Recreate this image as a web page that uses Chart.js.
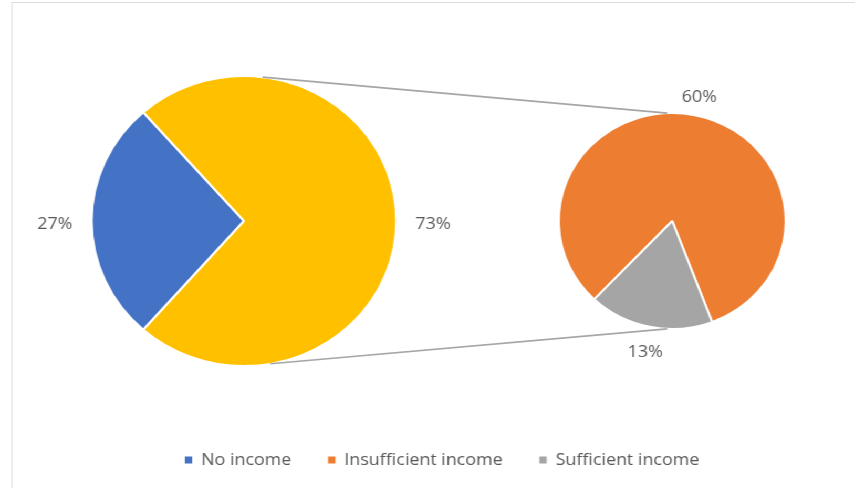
<!DOCTYPE html>
<html>
<head>
<meta charset="utf-8">
<title>Income situation</title>
<script src="https://cdn.jsdelivr.net/npm/chart.js@4.4.1/dist/chart.umd.min.js"></script>
<style>
  html, body { margin: 0; padding: 0; background: #ffffff; }
  body { width: 855px; height: 488px; overflow: hidden; }
  #stage {
    position: relative; width: 814px; height: 488px; overflow: hidden;
    transform: scaleX(1.0504); transform-origin: 0 0; background: #ffffff;
  }
  #frame {
    position: absolute; left: 10.5px; top: 2px; width: 900px; height: 600px;
    border-left: 1.5px solid #dcdcdc; border-top: 1.5px solid #dcdcdc;
  }
  canvas { position: absolute; top: 0; }
  #mainPie { left: 0px; }
  #detailPie { left: 141px; }
</style>
</head>
<body>
<div id="stage">
  <div id="frame"></div>
  <canvas id="mainPie" width="814" height="488"></canvas>
  <canvas id="detailPie" width="998" height="488"></canvas>
</div>
<script>
// Income groups (percent of respondents)
const categories = ['No income', 'Insufficient income', 'Sufficient income'];
const shares = [27, 60, 13];
const colors = ['#4472C4', '#ED7D31', '#A5A5A5'];
const incomeColor = '#FFC000';

// The main pie splits "no income" from everyone with some income;
// the detail pie breaks the income share down further.
const mainLabels = [categories[0], 'With income'];
const mainValues = [shares[0], shares[1] + shares[2]];
const detailLabels = categories.slice(1);
const detailValues = shares.slice(1);

const textColor = '#595959';
Chart.defaults.font.family = '"Open Sans", "Liberation Sans", sans-serif';
Chart.defaults.color = textColor;

// Percent labels placed just outside each slice, along its middle angle
const sliceLabels = {
  id: 'sliceLabels',
  afterDatasetsDraw(chart, args, opts) {
    const ctx = chart.ctx;
    const meta = chart.getDatasetMeta(0);
    const values = chart.data.datasets[0].data;
    ctx.save();
    ctx.font = `${opts.size}px "Open Sans", sans-serif`;
    ctx.fillStyle = textColor;
    ctx.textAlign = 'center';
    ctx.textBaseline = 'middle';
    meta.data.forEach((arc, i) => {
      const p = arc.getProps(['x', 'y', 'startAngle', 'endAngle', 'outerRadius'], true);
      const mid = (p.startAngle + p.endAngle) / 2;
      const d = p.outerRadius + opts.offset;
      ctx.fillText(values[i] + '%', p.x + d * Math.cos(mid), p.y + d * Math.sin(mid) + opts.dy);
    });
    ctx.restore();
  }
};

const mainChart = new Chart(document.getElementById('mainPie'), {
  type: 'pie',
  data: {
    labels: mainLabels,
    datasets: [{
      data: mainValues,
      backgroundColor: [colors[0], incomeColor],
      borderColor: '#ffffff',
      borderWidth: 2
    }]
  },
  options: {
    responsive: false,
    animation: false,
    devicePixelRatio: 1,
    rotation: 221.4,
    radius: 145,
    layout: { padding: { left: 87.3, right: 436.7, top: 76, bottom: 122 } },
    plugins: {
      legend: { display: false },
      tooltip: { enabled: false },
      sliceLabels: { offset: 35, size: 17, dy: 3 }
    }
  },
  plugins: [sliceLabels]
});

// Lines joining the main pie to the detail pie
const connectors = {
  id: 'connectors',
  afterDatasetsDraw(chart, args, opts) {
    const a = mainChart.getDatasetMeta(0).data[0];
    const b = chart.getDatasetMeta(0).data[0];
    const ax = a.x + opts.shiftX, ay = a.y, ar = a.outerRadius;
    const bx = b.x, by = b.y, br = b.outerRadius;
    const rad = (deg) => deg * Math.PI / 180;
    const ctx = chart.ctx;
    ctx.save();
    ctx.strokeStyle = '#a6a6a6';
    ctx.lineWidth = 1.6;
    [[opts.fromTop, opts.toTop], [opts.fromBottom, opts.toBottom]].forEach(([f, t]) => {
      ctx.beginPath();
      ctx.moveTo(ax + ar * Math.cos(rad(f)), ay + ar * Math.sin(rad(f)));
      ctx.lineTo(bx + br * Math.cos(rad(t)), by + br * Math.sin(rad(t)));
      ctx.stroke();
    });
    ctx.restore();
  }
};

new Chart(document.getElementById('detailPie'), {
  type: 'pie',
  data: {
    labels: detailLabels,
    datasets: [{
      data: detailValues,
      backgroundColor: colors.slice(1),
      borderColor: '#ffffff',
      borderWidth: 2
    }]
  },
  options: {
    responsive: false,
    animation: false,
    devicePixelRatio: 1,
    rotation: 223.5,
    radius: 108,
    layout: { padding: { left: 0, right: 0, top: 25.5, bottom: 9.5 } },
    plugins: {
      tooltip: { enabled: false },
      sliceLabels: { offset: 22, size: 17, dy: 4 },
      connectors: { shiftX: -141, fromTop: -83, toTop: -92.5, fromBottom: 80, toBottom: 92.5 },
      legend: {
        display: true,
        position: 'bottom',
        align: 'start',
        labels: {
          boxWidth: 7,
          boxHeight: 7,
          padding: 35,
          color: textColor,
          font: { size: 17 },
          generateLabels: () => categories.map((name, i) => ({
            text: name,
            fillStyle: colors[i],
            strokeStyle: colors[i],
            lineWidth: 0,
            fontColor: textColor,
            hidden: false,
            index: i
          }))
        }
      }
    }
  },
  plugins: [sliceLabels, connectors]
});
</script>
</body>
</html>
